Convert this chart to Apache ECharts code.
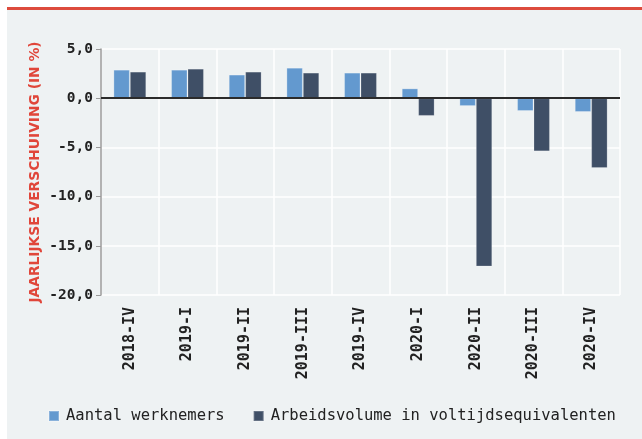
<!DOCTYPE html>
<html>
<head>
<meta charset="utf-8">
<script src="https://cdn.jsdelivr.net/npm/echarts@6/dist/echarts.min.js"></script>
<style>
  html, body { margin: 0; padding: 0; background: #fff; }
  #chart { width: 642px; height: 439px; }
</style>
</head>
<body>
<div id="chart"></div>
<script>
// Data
// ----------
var categories = ['2018-IV', '2019-I', '2019-II', '2019-III', '2019-IV', '2020-I', '2020-II', '2020-III', '2020-IV']
var werknemers = [2.9, 2.9, 2.4, 3.1, 2.6, 1.0, -0.8, -1.3, -1.4]
var arbeidsvolume = [2.7, 3.0, 2.7, 2.6, 2.6, -1.8, -17.1, -5.4, -7.1]
var seriesNames = ['Aantal werknemers', 'Arbeidsvolume in voltijdsequivalenten']

var mono = '"DejaVu Sans Mono", monospace'

var chart = echarts.init(document.getElementById('chart'))

var option = {
    backgroundColor: '#eef2f3',
    animation: false,
    graphic: [
        // white frame edge + red top rule
        { type: 'rect', shape: { x: 0, y: 0, width: 642, height: 7 }, style: { fill: '#fff' }, silent: true },
        { type: 'rect', shape: { x: 0, y: 0, width: 7, height: 439 }, style: { fill: '#fff' }, silent: true },
        { type: 'rect', shape: { x: 7, y: 7, width: 635, height: 3 }, style: { fill: '#dd4b3d' }, silent: true }
    ],
    grid: { left: 101, right: 22, top: 49, bottom: 144 },
    legend: {
        data: seriesNames,
        left: 43,
        top: 403,
        itemWidth: 10,
        itemHeight: 10,
        itemGap: 28,
        icon: 'rect',
        textStyle: { fontFamily: mono, fontSize: 15.5, color: '#222', padding: [0, 0, 0, 2] }
    },
    xAxis: {
        type: 'category',
        data: categories,
        axisLine: { show: false },
        axisTick: { show: false },
        splitLine: { show: true, lineStyle: { color: '#fff', width: 1.5 } },
        axisLabel: {
            rotate: 90,
            margin: 12,
            fontFamily: mono,
            fontWeight: 'bold',
            fontSize: 15,
            color: '#222'
        }
    },
    yAxis: {
        type: 'value',
        min: -20,
        max: 5,
        interval: 5,
        name: 'JAARLIJKSE VERSCHUIVING (IN %)',
        nameLocation: 'middle',
        nameGap: 59,
        nameMoveOverlap: false,
        nameTextStyle: { color: '#e0463a', fontFamily: '"DejaVu Sans", sans-serif', fontWeight: 'bold', fontSize: 13.8 },
        axisLine: { show: true, lineStyle: { color: '#9a9a9a', width: 1.5 } },
        axisTick: { show: true, length: 5, lineStyle: { color: '#9a9a9a' } },
        splitLine: { show: true, lineStyle: { color: '#fff', width: 1.5 } },
        axisLabel: {
            margin: 8,
            fontFamily: mono,
            fontWeight: 'bold',
            fontSize: 14.5,
            color: '#222',
            formatter: function (v) { return v.toFixed(1).replace('.', ',') }
        }
    },
    series: [
        {
            name: seriesNames[0],
            type: 'bar',
            data: werknemers,
            barGap: 0,
            barCategoryGap: '43%',
            itemStyle: { color: '#6399cf', borderColor: 'rgba(255,255,255,0.25)', borderWidth: 1 },
            markLine: {
                silent: true,
                symbol: 'none',
                label: { show: false },
                lineStyle: { color: '#2b2b2b', width: 2, type: 'solid' },
                data: [{ yAxis: 0 }]
            }
        },
        {
            name: seriesNames[1],
            type: 'bar',
            data: arbeidsvolume,
            barGap: 0,
            barCategoryGap: '43%',
            itemStyle: { color: '#3f4f66', borderColor: 'rgba(255,255,255,0.2)', borderWidth: 1 }
        }
    ]
}

chart.setOption(option)
</script>
</body>
</html>
